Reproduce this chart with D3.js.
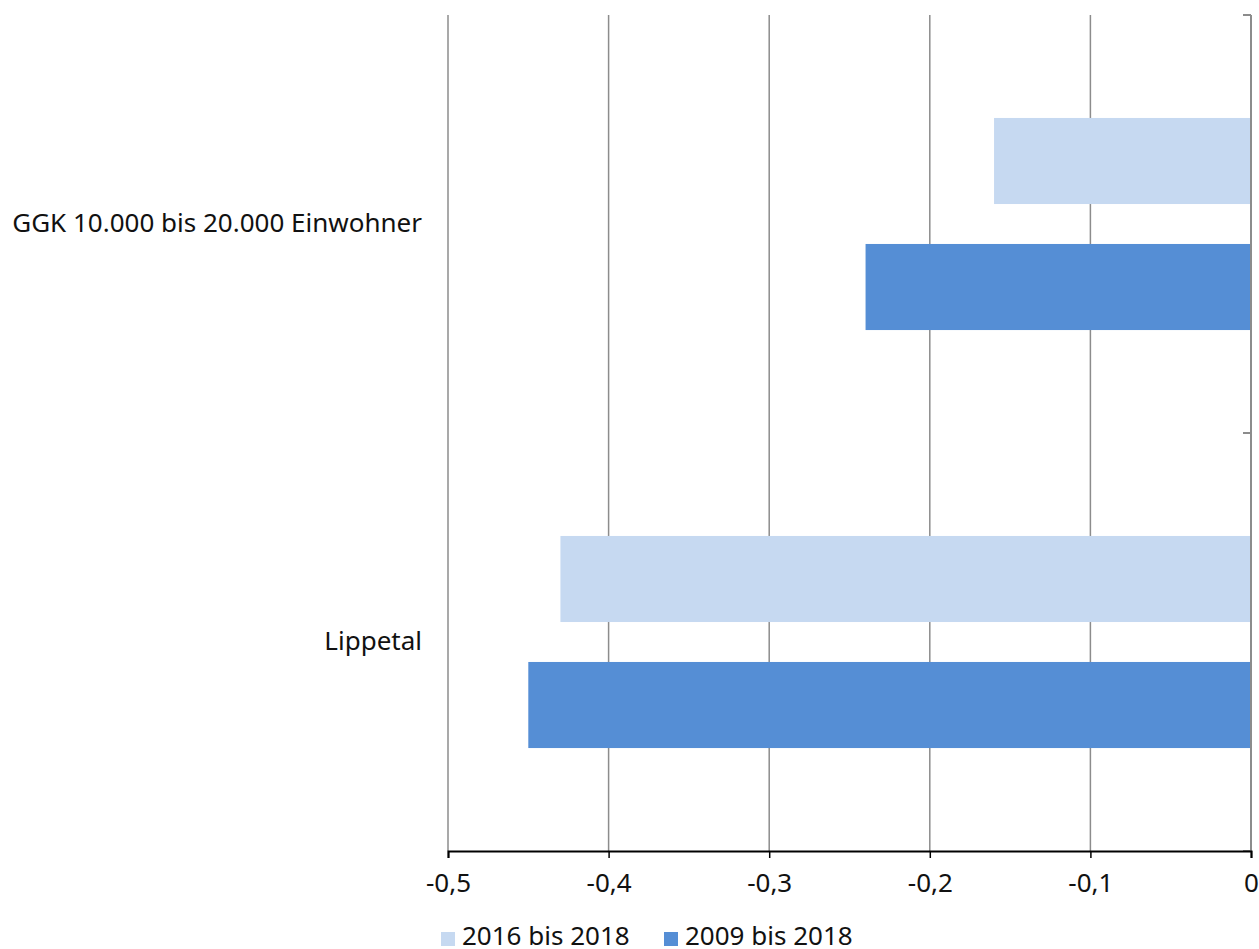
<!DOCTYPE html>
<html><head><meta charset="utf-8">
<script src="https://cdn.jsdelivr.net/npm/d3@7"></script>
<style>body{margin:0;background:#fff}svg{display:block}text{font-family:"Noto Sans",sans-serif;fill:#111}</style>
</head><body><svg id="c" width="1259" height="949"></svg>
<script>
const categories = ["GGK 10.000 bis 20.000 Einwohner", "Lippetal"];
const seriesNames = ["2016 bis 2018", "2009 bis 2018"];
const series2016 = [-0.16, -0.43];
const series2009 = [-0.24, -0.45];
const xTicks = [-0.5, -0.4, -0.3, -0.2, -0.1, 0];
const colors = ["#C6D9F1", "#558ED5"];

const svg = d3.select("#c");
const m = {left: 448, right: 1251, top: 15, bottom: 851};
const x = d3.scaleLinear().domain([-0.5, 0]).range([m.left, m.right]);
const y = d3.scaleBand().domain(categories).range([m.top, m.bottom]);
const inner = d3.scaleBand().domain(seriesNames).range([0, y.bandwidth()]).paddingInner(0.317).paddingOuter(0.817);

// gridlines
svg.append("g").selectAll("line").data(xTicks.slice(0, -1)).join("line")
  .attr("x1", d => x(d)).attr("x2", d => x(d)).attr("y1", m.top).attr("y2", m.bottom)
  .attr("stroke", "#8c8c8c").attr("stroke-width", 1.5);

// bars
const data = categories.map((c, i) => ({c, vals: [series2016[i], series2009[i]]}));
const g = svg.append("g");
data.forEach(d => {
  d.vals.forEach((v, j) => {
    g.append("rect")
      .attr("x", x(v)).attr("width", x(0) - x(v))
      .attr("y", y(d.c) + inner(seriesNames[j])).attr("height", inner.bandwidth())
      .attr("fill", colors[j]);
  });
});

// right vertical axis (category axis at 0)
svg.append("line").attr("x1", x(0)).attr("x2", x(0)).attr("y1", m.top).attr("y2", m.bottom)
  .attr("stroke", "#8c8c8c").attr("stroke-width", 2);
const bounds = [m.top, y(categories[1]), m.bottom];
svg.append("g").selectAll("line").data(bounds).join("line")
  .attr("x1", x(0) - 8).attr("x2", x(0)).attr("y1", d => d).attr("y2", d => d)
  .attr("stroke", "#8c8c8c").attr("stroke-width", 2);

// x axis
const xAxis = d3.axisBottom(x).tickValues(xTicks).tickSize(7).tickPadding(9)
  .tickFormat(d => d === 0 ? "0" : d3.format(".1f")(d).replace(".", ",").replace("−", "-"));
const ax = svg.append("g").attr("transform", `translate(0,${m.bottom})`).call(xAxis);
ax.select(".domain").attr("stroke", "#000").attr("stroke-width", 2);
ax.selectAll(".tick line").attr("stroke", "#000").attr("stroke-width", 1.5);
ax.selectAll("text").style("font-size", "26px").attr("fill", "#111").attr("dy", null).attr("y", 41)
  .attr("font-family", '"Noto Sans",sans-serif');

// category labels
svg.append("g").selectAll("text").data(categories).join("text")
  .attr("x", 422).attr("y", d => y(d) + y.bandwidth() / 2 + 8)
  .attr("text-anchor", "end").style("font-size", "26px").text(d => d);

// legend
const legX = [441, 664];
const lg = svg.append("g");
seriesNames.forEach((s, i) => {
  lg.append("rect").attr("x", legX[i]).attr("y", 932).attr("width", 14).attr("height", 14).attr("fill", colors[i]);
  lg.append("text").attr("x", legX[i] + 21).attr("y", 945).style("font-size", "26px").text(s);
});
</script></body></html>
